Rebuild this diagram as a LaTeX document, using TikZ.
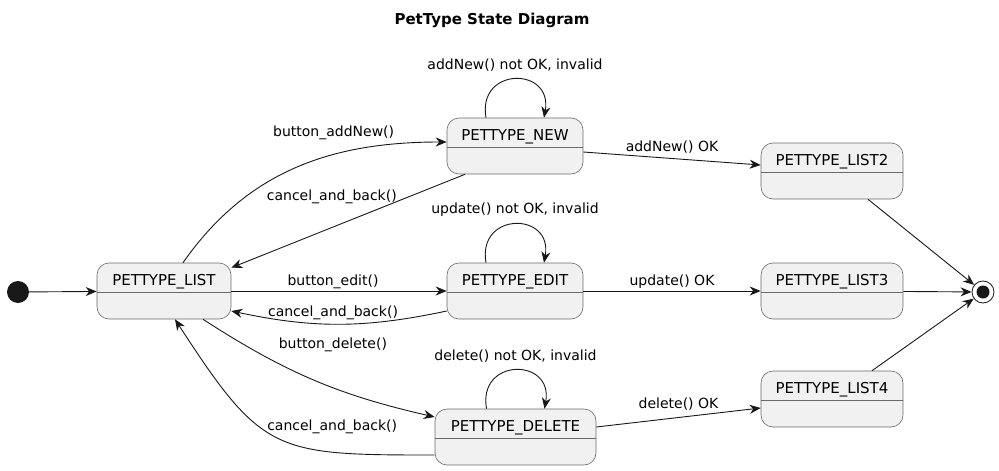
\documentclass[tikz,border=0pt]{standalone}
\usepackage{fontspec}
\setmainfont{DejaVu Sans}
\usetikzlibrary{arrows.meta}

\definecolor{stfill}{HTML}{F1F1F1}
\definecolor{stline}{HTML}{181818}
\definecolor{stedge}{HTML}{6A6A6A}

\tikzset{
  stt/.style={draw=stedge, line width=0.6pt, fill=stfill, rounded corners=12pt,
    minimum height=56pt, inner sep=0pt, font=\fontsize{15}{17}\selectfont,
    text height=14pt, text depth=26pt},
  sepl/.style={draw=stedge, line width=0.6pt},
  tr/.style={-{Stealth[length=11pt,width=9pt,inset=3.5pt]}, line width=0.9pt, draw=stline},
  lbl/.style={font=\fontsize{14}{16}\selectfont, inner sep=1pt},
  startst/.style={circle, fill=stline, minimum size=22pt, inner sep=0pt},
  endst/.style={circle, draw=stline, line width=0.8pt, fill=white, minimum size=22pt,
    inner sep=0pt, path picture={\fill[stline] (path picture bounding box.center) circle (6.5pt);}},
}

\begin{document}
\begin{tikzpicture}[x=1pt,y=1pt]

\useasboundingbox (0,0) rectangle (999,-471);

\node[font=\bfseries\fontsize{15}{17}\selectfont] (title) at (492,-20) {PetType State Diagram};

%% states
\node[startst] (start) at (18,-292) {};
\node[stt, minimum width=134pt] (list) at (164,-291) {PETTYPE\_LIST};
\node[stt, minimum width=136pt] (new)  at (515,-146) {PETTYPE\_NEW};
\node[stt, minimum width=136pt] (edit) at (515,-291) {PETTYPE\_EDIT};
\node[stt, minimum width=161pt] (del)  at (515.5,-437) {PETTYPE\_DELETE};
\node[stt, minimum width=142pt] (l2) at (832,-171) {PETTYPE\_LIST2};
\node[stt, minimum width=142pt] (l3) at (832,-291) {PETTYPE\_LIST3};
\node[stt, minimum width=142pt] (l4) at (832,-399) {PETTYPE\_LIST4};
\node[endst] (end) at (983,-292) {};

\foreach \s in {list,new,edit,del,l2,l3,l4}
  \draw[sepl] ([yshift=-1.5pt]\s.west) -- ([yshift=-1.5pt]\s.east);

%% transitions
\draw[tr] (start) -- (list);

\draw[tr] ([xshift=19pt]list.north) to[out=55,in=180]
  node[lbl, pos=.6, xshift=10pt, yshift=13pt, above=3pt]{button\_addNew()} ([yshift=4pt]new.west);
\draw[tr] ([xshift=-50pt]new.south) --
  node[lbl, pos=.57, above=22pt]{cancel\_and\_back()} ([yshift=-5pt]list.north east);

\draw[tr] (list) -- node[lbl, xshift=-6pt, above=1pt]{button\_edit()} (edit);
\draw[tr] ([yshift=-20pt]edit.west) to[bend left=12]
  node[lbl, xshift=-6pt, above=3pt]{cancel\_and\_back()} ([yshift=-20pt]list.east);

\draw[tr] ([xshift=39pt]list.south) to[bend right=10]
  node[lbl, pos=.5, xshift=19pt, yshift=35pt]{button\_delete()} ([yshift=20pt]del.west);
\draw[tr] ([yshift=-18pt]del.west) to[out=180,in=-57,looseness=1.4]
  node[lbl, pos=.35, xshift=21pt, yshift=22pt]{cancel\_and\_back()} ([xshift=11pt]list.south);

%% self loops
\draw[tr] ([xshift=-29pt]new.north) to[out=100,in=80,looseness=2.3]
  node[lbl, above=6.5pt]{addNew() not OK, invalid} ([xshift=29pt]new.north);
\draw[tr] ([xshift=-29pt]edit.north) to[out=100,in=80,looseness=2.3]
  node[lbl, above=6.5pt]{update() not OK, invalid} ([xshift=29pt]edit.north);
\draw[tr] ([xshift=-29pt]del.north) to[out=100,in=80,looseness=2.3]
  node[lbl, above=6.5pt]{delete() not OK, invalid} ([xshift=29pt]del.north);

\draw[tr] ([yshift=-6pt]new.east) --
  node[lbl, above=4pt]{addNew() OK} ([yshift=6pt]l2.west);
\draw[tr] (edit) -- node[lbl, above=1pt]{update() OK} (l3);
\draw[tr] ([yshift=10pt]del.east) --
  node[lbl, above=6pt]{delete() OK} ([yshift=-9pt]l4.west);

\draw[tr] ([xshift=36pt]l2.south) -- (end);
\draw[tr] (l3) -- (end);
\draw[tr] ([xshift=40pt]l4.north) -- (end);

\end{tikzpicture}
\end{document}
